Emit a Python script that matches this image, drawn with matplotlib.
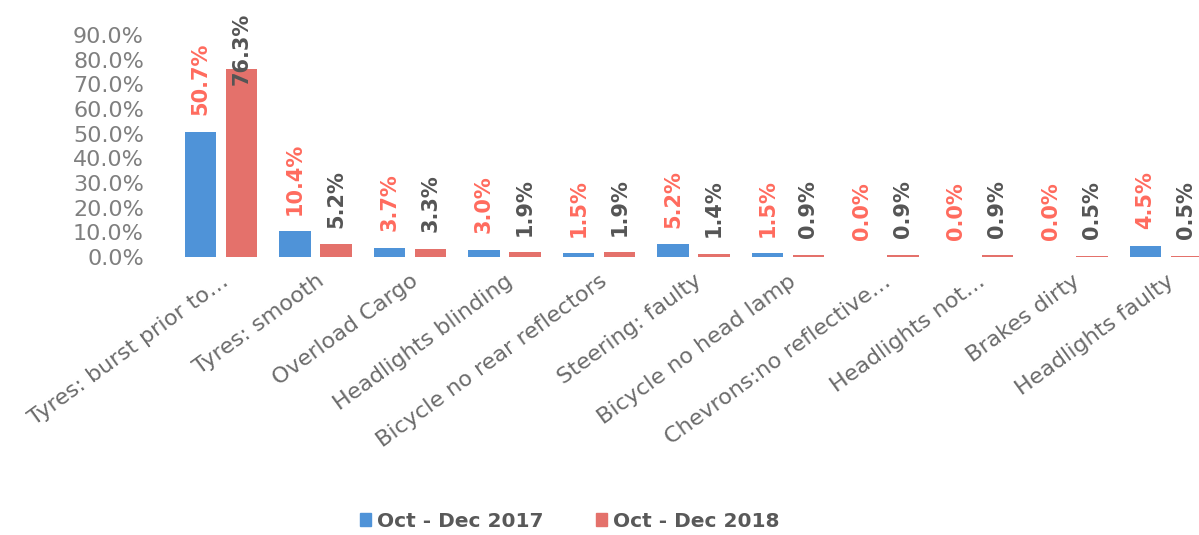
import numpy as np
import matplotlib
matplotlib.use("Agg")
import matplotlib.pyplot as plt
import matplotlib.transforms as mtransforms
from matplotlib.patches import Patch

categories = ["Tyres: burst prior to…", "Tyres: smooth", "Overload Cargo",
              "Headlights blinding", "Bicycle no rear reflectors", "Steering: faulty",
              "Bicycle no head lamp", "Chevrons:no reflective…", "Headlights not…",
              "Brakes dirty", "Headlights faulty"]
vals_2017 = [50.7, 10.4, 3.7, 3.0, 1.5, 5.2, 1.5, 0.0, 0.0, 0.0, 4.5]
vals_2018 = [76.3, 5.2, 3.3, 1.9, 1.9, 1.4, 0.9, 0.9, 0.9, 0.5, 0.5]
series_names = ["Oct - Dec 2017", "Oct - Dec 2018"]
y_ticks = [0, 10, 20, 30, 40, 50, 60, 70, 80, 90]

blue = "#4f93d8"
red = "#e4716b"
lab_red = "#ff6b5e"
lab_dark = "#555555"
axis_grey = "#7f7f7f"

fig = plt.figure(figsize=(11.99, 5.35), dpi=100)
ax = fig.add_axes([155 / 1199, 1 - 257 / 535, (1199 - 155) / 1199, (257 - 35) / 535])

x = np.arange(len(categories))
w = 0.33
off = 0.217
ax.bar(x - off, vals_2017, width=w, color=blue)
ax.bar(x + off, vals_2018, width=w, color=red)

# data labels (2017 ones in red, 2018 ones in dark grey), kept inside the figure
for xs, vals, col in [(x - off, vals_2017, lab_red), (x + off, vals_2018, lab_dark)]:
    for xi, v in zip(xs, vals):
        ax.annotate(f"{v:.1f}%", (xi, min(v, 63)), xytext=(0, 12),
                    textcoords="offset points", rotation=90, ha="center", va="bottom",
                    fontsize=15, fontweight="bold", color=col, annotation_clip=False)

ax.set_xlim(-0.698, 10.35)
ax.set_ylim(0, 90)
ax.set_yticks(y_ticks)
ax.set_yticklabels([f"{t:.1f}%" for t in y_ticks], fontsize=16, color=axis_grey)
ax.set_xticks(x)
ax.set_xticklabels(categories, rotation=36, ha="right", rotation_mode="anchor",
                   fontsize=16, color="#6b6b6b")
shift = mtransforms.ScaledTranslation(10 / 100, 0, fig.dpi_scale_trans)
for lbl in ax.get_xticklabels():
    lbl.set_transform(lbl.get_transform() + shift)
ax.tick_params(axis="both", length=0)
ax.tick_params(axis="x", pad=10)
ax.tick_params(axis="y", pad=8)
for s in ax.spines.values():
    s.set_visible(False)

handles = [Patch(color=blue), Patch(color=red)]
leg = fig.legend(handles, series_names, loc="center", bbox_to_anchor=(0.475, 0.026),
                 ncol=2, frameon=False, handlelength=0.55, handleheight=0.55,
                 handletextpad=0.3, columnspacing=2.6,
                 prop=dict(weight="bold", size=14.5))
for t in leg.get_texts():
    t.set_color("#595959")

fig.savefig("out.png", dpi=100)
